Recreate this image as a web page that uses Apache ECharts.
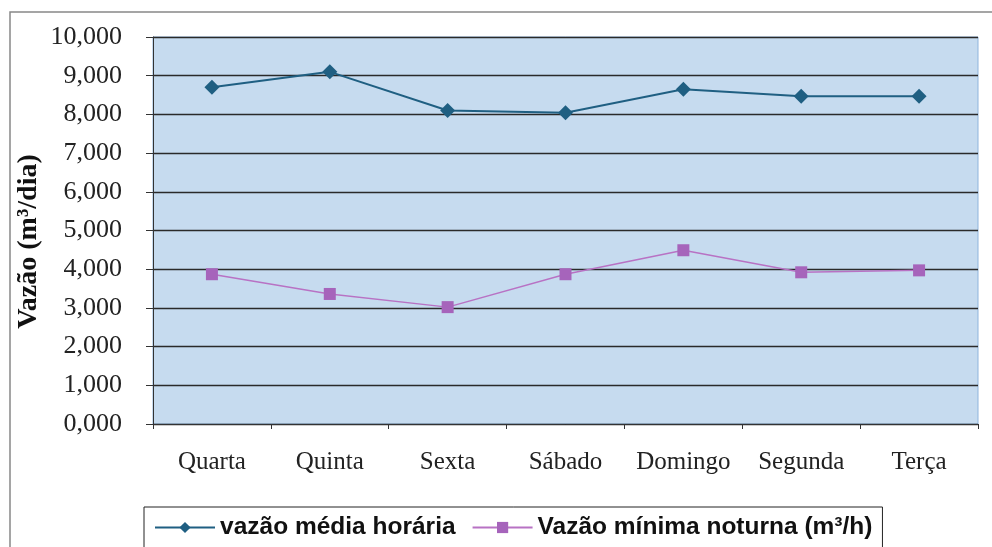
<!DOCTYPE html>
<html>
<head>
<meta charset="utf-8">
<script src="https://cdn.jsdelivr.net/npm/echarts@6/dist/echarts.min.js"></script>
<style>
  html, body { margin: 0; padding: 0; background: #fff; }
  #chart { width: 992px; height: 547px; }
</style>
</head>
<body>
<div id="chart"></div>
<script>
// dias da semana
const dias = ['Quarta', 'Quinta', 'Sexta', 'Sábado', 'Domingo', 'Segunda', 'Terça'];
// valores
const vazaoMedia = [8.70, 9.10, 8.10, 8.04, 8.65, 8.47, 8.47];
const vazaoMinima = [3.87, 3.36, 3.02, 3.87, 4.49, 3.92, 3.97];
const nomeMedia = 'vazão média horária';
const nomeMinima = 'Vazão mínima noturna (m³/h)';

const chart = echarts.init(document.getElementById('chart'));

const serif = '"Liberation Serif", "DejaVu Serif", serif';

const option = {
    backgroundColor: '#fff',
    animation: false,
    graphic: [
        {
            type: 'rect',
            shape: { x: 10, y: 12, width: 990, height: 550 },
            style: { fill: 'none', stroke: '#888', lineWidth: 1.5 },
            silent: true,
        },
    ],
    grid: {
        left: 153,
        right: 14,
        top: 37,
        bottom: 123,
        show: true,
        backgroundColor: '#c6dbef',
        borderColor: '#8fb4dc',
        borderWidth: 1,
    },
    legend: {
        left: 144,
        top: 507,
        padding: [8, 10, 10, 10],
        itemGap: 16,
        itemWidth: 60,
        itemHeight: 14,
        borderColor: '#222',
        borderWidth: 1,
        data: [nomeMedia, nomeMinima],
        textStyle: {
            fontFamily: '"Liberation Sans", Arial, sans-serif',
            fontSize: 24.5,
            fontWeight: 'bold',
            color: '#111',
        },
    },
    xAxis: {
        type: 'category',
        data: dias,
        boundaryGap: true,
        axisLine: { lineStyle: { color: '#333', width: 1 } },
        axisTick: { show: true, length: 5, interval: 0, lineStyle: { color: '#333' } },
        axisLabel: {
            interval: 0,
            margin: 26,
            fontFamily: serif,
            fontSize: 25,
            color: '#222',
        },
    },
    yAxis: {
        type: 'value',
        min: 0,
        max: 10,
        interval: 1,
        name: 'Vazão (m³/dia)',
        nameLocation: 'middle',
        nameGap: 110,
        nameMoveOverlap: false,
        nameTextStyle: {
            fontFamily: serif,
            fontSize: 28,
            fontWeight: 'bold',
            color: '#111',
            padding: [0, 22, 0, 0],
        },
        axisLine: { show: true, lineStyle: { color: '#333' } },
        axisTick: { show: true, length: 7, lineStyle: { color: '#333' } },
        splitLine: { lineStyle: { color: '#2a2a2a', width: 1.3 } },
        axisLabel: {
            margin: 31,
            fontFamily: serif,
            fontSize: 26,
            color: '#222',
            formatter: v => v.toFixed(3).replace('.', ','),
        },
    },
    series: [
        {
            name: nomeMedia,
            type: 'line',
            data: vazaoMedia,
            symbol: 'diamond',
            symbolSize: 15,
            lineStyle: { color: '#1f5f82', width: 2 },
            itemStyle: { color: '#1f5f82' },
        },
        {
            name: nomeMinima,
            type: 'line',
            data: vazaoMinima,
            symbol: 'rect',
            symbolSize: 12,
            lineStyle: { color: '#b872c4', width: 1.5 },
            itemStyle: { color: '#a664bb' },
        },
    ],
};

chart.setOption(option);
</script>
</body>
</html>
